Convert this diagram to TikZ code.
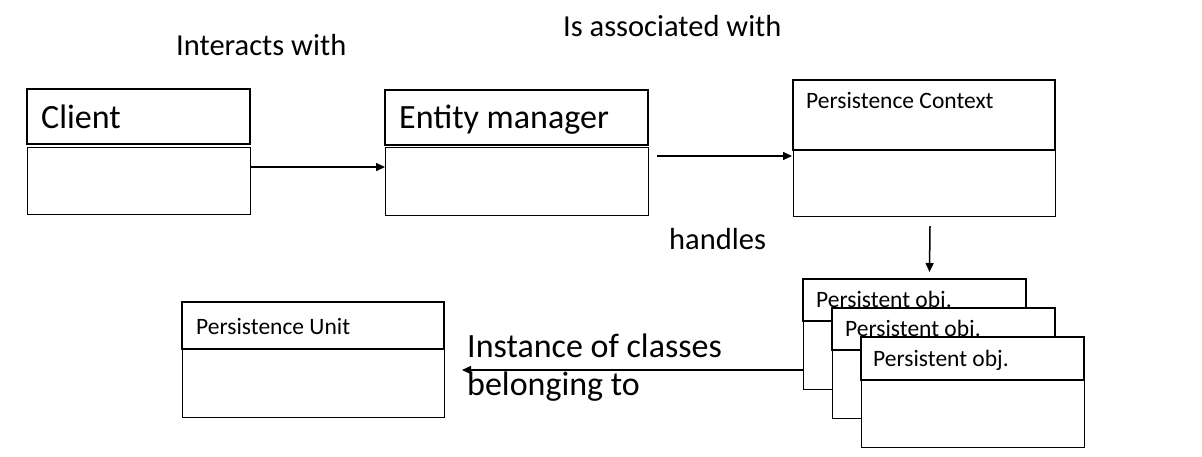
\documentclass[tikz,border=0pt]{standalone}
\usepackage{fontspec}
\setmainfont{Carlito}
\usetikzlibrary{arrows.meta}
\tikzset{
  hdr/.style={draw, line width=2pt, fill=white, inner sep=0pt, outer sep=0pt, minimum width=#1},
  bdy/.style={draw, line width=1pt, fill=white, inner sep=0pt, outer sep=0pt, minimum width=#1},
  big/.style={font=\fontsize{34}{39}\selectfont, inner sep=0pt, anchor=base west},
  mid/.style={font=\fontsize{30.5}{35}\selectfont, inner sep=0pt, anchor=base west},
  sml/.style={font=\fontsize{23.5}{27}\selectfont, inner sep=0pt, anchor=base west},
  arr/.style={line width=1.5pt, -{Triangle[length=9pt,width=8pt]}}
}
\begin{document}
\begin{tikzpicture}[x=1pt,y=-1pt]
\useasboundingbox (0,0) rectangle (1202,456);
% Client
\node[hdr=223pt, minimum height=55pt] (ch) at (138.5,116.5) {};
\node[bdy=223pt, minimum height=67pt] (cb) at (138.5,180.5) {};
\node[big] (ct) at (41,128) {Client};
% Entity manager
\node[hdr=263pt, minimum height=55pt] (eh) at (516.5,117.5) {};
\node[bdy=263pt, minimum height=68pt] (eb) at (516.5,181) {};
\node[big] (et) at (399,128) {Entity manager};
% Persistence context
\node[bdy=262pt, minimum height=66pt] (pb) at (924,183) {};
\node[hdr=262pt, minimum height=70pt] (ph) at (924,115) {};
\node[sml] (pt) at (806,108) {Persistence Context};
% Persistence unit
\node[bdy=262pt, minimum height=68pt] (ub) at (313,383) {};
\node[hdr=262pt, minimum height=47pt] (uh) at (313,325.5) {};
\node[sml] (ut) at (196,334) {Persistence Unit};
% Persistent objects
\node[bdy=223pt, minimum height=68pt] (o1b) at (914.5,355) {};
\node[hdr=223pt, minimum height=42pt] (o1h) at (914.5,300) {};
\node[sml] (o1t) at (816,307) {Persistent obj.};
\node[bdy=223pt, minimum height=68pt] (o2b) at (943.5,384) {};
\node[hdr=223pt, minimum height=42pt] (o2h) at (943.5,329) {};
\node[sml] (o2t) at (845,336) {Persistent obj.};
\node[bdy=223pt, minimum height=67pt] (o3b) at (972.5,413.5) {};
\node[hdr=223pt, minimum height=43pt] (o3h) at (972.5,358.5) {};
\node[sml] (o3t) at (873,366) {Persistent obj.};
% labels
\node[mid] (l1) at (176,55) {Interacts with};
\node[mid] (l2) at (563,36) {Is associated with};
\node[mid] (l3) at (669,249) {handles};
\node[big] (l4) at (467,357) {Instance of classes};
\node[big] (l5) at (467,395) {belonging to};
% arrows
\draw[arr] ([yshift=13.5pt]cb.east) -- ([yshift=14pt]eb.west);
\draw[arr] ([xshift=9pt,yshift=-11pt]eh.south east) -- ([xshift=-1pt,yshift=-6pt]pb.north west);
\draw[arr] ([xshift=6pt,yshift=-10pt]pb.south) -- ([xshift=15pt,yshift=7pt]o1h.north);
\draw[arr] ([yshift=-15pt]o1b.west) -- ([xshift=18pt,yshift=13pt]ub.east);
\end{tikzpicture}
\end{document}
